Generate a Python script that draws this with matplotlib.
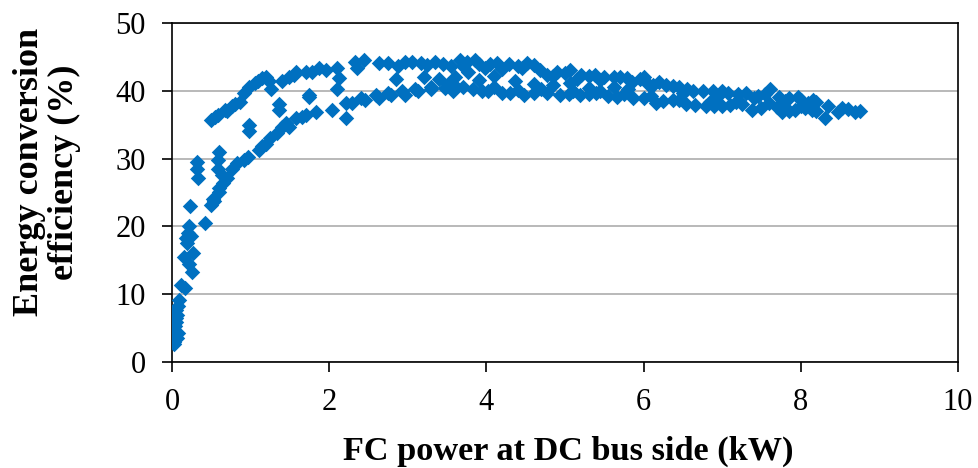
import matplotlib
matplotlib.use('Agg')
import matplotlib.pyplot as plt
import numpy as np

plt.rcParams['font.family'] = ['Liberation Serif', 'DejaVu Serif']

# start-up column and early rise
x_start = [0.02, 0.03, 0.03, 0.04, 0.04, 0.05, 0.05, 0.06, 0.06, 0.07, 0.03, 0.05, 0.08, 0.09,
           0.12, 0.17, 0.15, 0.21, 0.25, 0.27, 0.18, 0.20, 0.22, 0.24, 0.19, 0.23, 0.42, 0.50,
           0.53, 0.60]
y_start = [2.6, 3.2, 4.0, 4.6, 5.3, 5.9, 6.5, 7.0, 3.5, 4.3, 2.9, 7.6, 8.2, 9.2,
           11.4, 10.9, 15.5, 14.5, 13.3, 16.1, 18.3, 19.0, 20.0, 18.6, 17.6, 23.0, 20.5, 23.2,
           23.8, 25.0]

# upper branch
x_upper = [0.50, 0.55, 0.58, 0.67, 0.70, 0.76, 0.80, 0.86, 0.92, 0.98, 1.05, 1.10, 1.15, 1.20,
           1.24, 1.26, 1.40, 1.49, 1.55, 1.58, 1.70, 1.78, 1.87, 1.96, 2.10, 2.12, 2.10, 2.33,
           2.44, 2.35, 2.63, 2.75, 2.88, 2.85, 2.97, 3.05, 3.17, 3.25, 3.35, 3.45, 3.55, 3.60,
           3.66, 3.75, 3.85, 3.98, 4.05, 4.14, 4.29, 4.40, 4.52, 4.60, 4.68, 4.77, 4.90, 5.06,
           5.21, 5.30, 5.38, 5.50, 5.62, 5.70, 5.79, 6.00, 5.95, 6.12, 6.20, 6.29, 6.37, 6.45,
           6.55, 6.63, 6.75, 6.88, 7.00, 7.08, 7.20, 7.30, 7.45, 7.61, 7.72, 7.85, 7.97, 8.00,
           8.09, 8.20, 3.70, 3.90, 4.20, 4.45, 4.85, 5.00, 5.15, 5.45, 5.85, 6.05, 6.50, 6.95,
           7.40, 7.55, 7.80, 8.15]
y_upper = [35.7, 36.2, 36.5, 37.2, 37.0, 37.7, 38.0, 38.4, 39.7, 40.6, 41.2, 41.5, 41.9, 42.0,
           41.4, 40.2, 41.4, 42.1, 42.4, 42.7, 42.8, 42.8, 43.4, 43.1, 43.4, 41.9, 40.2, 44.3,
           44.6, 43.4, 44.1, 44.1, 43.6, 41.7, 44.3, 44.2, 44.1, 43.8, 44.3, 44.0, 43.6, 42.1,
           44.6, 44.3, 44.6, 43.4, 44.0, 44.1, 43.9, 43.7, 44.1, 43.8, 43.1, 42.4, 42.8, 43.1,
           42.4, 42.2, 42.4, 42.0, 42.1, 42.0, 41.9, 42.1, 41.7, 40.9, 41.3, 40.9, 40.7, 40.6,
           40.3, 39.9, 39.9, 39.9, 39.9, 39.7, 39.5, 39.7, 39.3, 40.2, 39.1, 38.9, 39.1, 38.6,
           38.2, 38.3, 43.6, 43.9, 43.2, 43.3, 42.2, 42.6, 41.8, 41.6, 41.3, 41.0, 39.6, 39.3,
           38.9, 39.5, 38.5, 38.7]

# middle branch
x_middle = [0.32, 0.32, 0.33, 0.60, 0.58, 0.58, 0.63, 0.98, 0.98, 1.36, 1.36, 1.74, 1.74, 2.03,
            2.21, 3.20, 3.76, 4.36, 5.06, 5.62, 3.40, 3.90, 4.10, 4.60, 4.85, 5.30, 5.80]
y_middle = [29.5, 28.4, 27.2, 30.9, 29.8, 28.4, 27.6, 35.0, 34.0, 38.0, 37.2, 39.1, 39.4, 37.2,
            36.0, 42.0, 42.7, 41.4, 41.2, 40.6, 41.8, 41.6, 42.2, 41.0, 40.8, 40.4, 40.2]

# lower branch
x_lower = [0.52, 0.60, 0.65, 0.70, 0.76, 0.83, 0.92, 0.97, 1.11, 1.15, 1.20, 1.25, 1.33, 1.40,
           1.45, 1.49, 1.58, 1.65, 1.70, 1.83, 2.22, 2.29, 2.41, 2.46, 2.59, 2.63, 2.75, 2.79,
           2.92, 2.97, 3.09, 3.13, 3.30, 3.30, 3.47, 3.51, 3.57, 3.57, 3.83, 4.02, 4.20, 4.30,
           4.48, 4.60, 4.77, 4.94, 5.05, 5.19, 5.30, 5.40, 5.55, 5.66, 5.87, 6.00, 6.16, 6.25,
           6.38, 6.54, 6.65, 6.79, 6.90, 7.00, 7.10, 7.17, 7.38, 7.50, 7.59, 7.76, 7.85, 7.93,
           8.05, 8.14, 8.20, 8.31, 8.35, 8.47, 8.52, 8.60, 8.69, 8.75, 3.70, 3.95, 4.10, 4.40,
           4.70, 5.10, 5.45, 5.75, 6.10, 6.45, 6.85, 7.25, 7.70, 8.00]
y_lower = [24.0, 25.7, 26.4, 27.2, 28.4, 29.4, 29.8, 30.3, 31.3, 31.8, 32.2, 33.0, 33.8, 34.6,
           35.3, 34.7, 36.0, 36.2, 36.5, 36.9, 38.2, 38.2, 39.0, 38.7, 39.4, 39.0, 39.7, 39.4,
           39.9, 39.4, 40.2, 39.9, 40.6, 40.2, 40.4, 41.0, 41.0, 39.9, 40.2, 39.9, 39.7, 39.6,
           39.4, 39.6, 39.7, 39.4, 39.5, 39.4, 39.5, 39.7, 39.3, 39.1, 39.0, 39.0, 38.2, 38.5,
           38.7, 38.0, 37.9, 37.7, 37.8, 37.7, 37.9, 38.4, 37.2, 37.5, 38.2, 36.8, 37.0, 37.2,
           37.4, 37.2, 37.0, 36.0, 37.7, 36.9, 37.5, 37.3, 36.9, 37.0, 40.5, 40.0, 40.6, 40.1,
           40.2, 40.0, 39.9, 39.5, 39.3, 38.6, 38.3, 38.0, 37.6, 37.8]

x_ticks = [0, 2, 4, 6, 8, 10]
y_ticks = [0, 10, 20, 30, 40, 50]

BLUE = '#0070C0'

fig = plt.figure(figsize=(9.79, 4.68), dpi=100)
fig.patch.set_facecolor('white')
ax = fig.add_axes([0.1757, 0.2265, 0.9785 - 0.1757, 0.9509 - 0.2265])

xs = x_start + x_upper + x_middle + x_lower
ys = y_start + y_upper + y_middle + y_lower
ax.scatter(xs, ys, marker='D', s=62, color=BLUE, linewidths=0, zorder=3)

ax.set_xlim(0, 10)
ax.set_ylim(0, 50)
ax.set_xticks(x_ticks)
ax.set_yticks(y_ticks)
ax.yaxis.grid(True, color='#a6a6a6', linewidth=1.1)
ax.set_axisbelow(True)

for sp in ax.spines.values():
    sp.set_color('black')
    sp.set_linewidth(1.2)

ax.tick_params(axis='both', direction='out', length=7, width=1.2,
               labelsize=22, pad=12, colors='black')

fig.text(568 / 979, (468 - 460) / 468, 'FC power at DC bus side (kW)',
         ha='center', va='baseline', fontsize=24.7, fontweight='bold')
fig.text(47 / 979, (468 - 172) / 468, 'Energy conversion\nefficiency (%)',
         ha='center', va='center', rotation=90, fontsize=26,
         fontweight='bold', linespacing=1.05, multialignment='center')

fig.savefig('out.png', dpi=100, facecolor='white')
